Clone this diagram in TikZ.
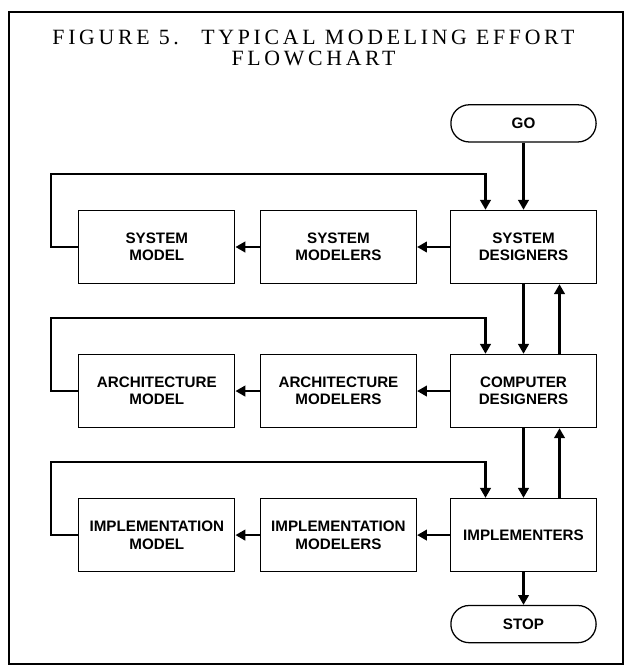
\documentclass[tikz,border=0pt]{standalone}
\usepackage{fontspec}
\setmainfont{Liberation Serif}
\newfontfamily\titlefont[LetterSpace=17]{Liberation Serif}
\newfontfamily\boxfont{Liberation Sans}
\usetikzlibrary{arrows.meta, positioning}

\begin{document}
\begin{tikzpicture} [x = 0.025cm, y = -0.025cm, node distance = 3.6cm and 4.6cm, on grid,
    block/.style = {draw, line width = 0.9pt, minimum width = 3.9cm, minimum height = 1.83cm,
        align = center, font = \boxfont\bfseries\fontsize{10.8}{12.4}\selectfont},
    term/.style = {draw, line width = 0.9pt, rounded corners = 0.46cm, minimum width = 3.63cm,
        minimum height = 0.93cm, font = \boxfont\bfseries\fontsize{10.8}{12.4}\selectfont},
    flow/.style = {-{Triangle[length = 7pt, width = 7.5pt]}, line width = 1.6pt}]

\useasboundingbox (0,0) rectangle (626,669);
\draw [line width = 0.8pt] (9,12) rectangle (623,664);

\node (title) [align = center, font = \titlefont\fontsize{15.5}{14.5}\selectfont] at (313.5,48)
    {FIGURE 5.\hspace*{16pt}TYPICAL MODELING EFFORT\\FLOWCHART};

\node (sd) [block, minimum width = 3.65cm] at (523.5,247) {SYSTEM\\DESIGNERS};
\node (smr) [block, left = 4.625cm of sd] {SYSTEM\\MODELERS};
\node (sm) [block, left = 4.54cm of smr] {SYSTEM\\MODEL};

\node (cd) [block, minimum width = 3.65cm, below = of sd] {COMPUTER\\DESIGNERS};
\node (amr) [block, left = 4.625cm of cd] {ARCHITECTURE\\MODELERS};
\node (am) [block, left = 4.54cm of amr] {ARCHITECTURE\\MODEL};

\node (imp) [block, minimum width = 3.65cm, below = of cd] {IMPLEMENTERS};
\node (imr) [block, left = 4.625cm of imp] {IMPLEMENTATION\\MODELERS};
\node (im) [block, left = 4.54cm of imr] {IMPLEMENTATION\\MODEL};

\node (go) [term, above = 3.09cm of sd] {GO};
\node (stop) [term, below = 2.225cm of imp] {STOP};

\path [flow] (go) edge (sd);
\path [flow] (sd) edge (smr);
\path [flow] (smr) edge (sm);
\path [flow] (cd) edge (amr);
\path [flow] (amr) edge (am);
\path [flow] (imp) edge (imr);
\path [flow] (imr) edge (im);

\path [flow] (sd) edge (cd);
\path [flow] (cd) edge (imp);
\path [flow] (imp) edge (stop);
\draw [flow] ([xshift = 0.9cm]cd.north) -- ([xshift = 0.9cm]sd.south);
\draw [flow] ([xshift = 0.9cm]imp.north) -- ([xshift = 0.9cm]cd.south);

% feedback from each model
\draw [flow] (sm.west) -- ++(-0.675cm,0) |- ([xshift = -0.95cm, yshift = 0.9cm]sd.north)
    -- ([xshift = -0.95cm]sd.north);
\draw [flow] (am.west) -- ++(-0.675cm,0) |- ([xshift = -0.95cm, yshift = 0.9cm]cd.north)
    -- ([xshift = -0.95cm]cd.north);
\draw [flow] (im.west) -- ++(-0.675cm,0) |- ([xshift = -0.95cm, yshift = 0.9cm]imp.north)
    -- ([xshift = -0.95cm]imp.north);

\end{tikzpicture}
\end{document}
